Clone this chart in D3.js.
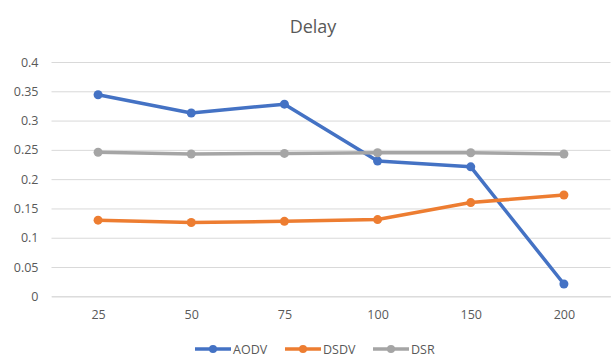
<!DOCTYPE html>
<html>
<head>
<meta charset="utf-8">
<script src="https://cdn.jsdelivr.net/npm/d3@7"></script>
<style>
  html, body { margin: 0; padding: 0; background: #fff; }
  svg { display: block; font-family: "Open Sans", "Noto Sans", sans-serif; }
</style>
</head>
<body>
<svg id="chart" width="612" height="357"></svg>
<script>
const categories = ["25", "50", "75", "100", "150", "200"];
const aodv = [0.344, 0.313, 0.328, 0.231, 0.221, 0.021];
const dsdv = [0.130, 0.126, 0.128, 0.131, 0.160, 0.173];
const dsr  = [0.246, 0.243, 0.244, 0.245, 0.245, 0.243];
const seriesNames = ["AODV", "DSDV", "DSR"];
const yTicks = [0, 0.05, 0.1, 0.15, 0.2, 0.25, 0.3, 0.35, 0.4];
const title = "Delay";

const series = [
  { name: seriesNames[0], values: aodv, color: "#4472C4" },
  { name: seriesNames[1], values: dsdv, color: "#ED7D31" },
  { name: seriesNames[2], values: dsr,  color: "#A5A5A5" }
];

const svg = d3.select("#chart");
const plotLeft = 51.5, plotRight = 610.5, plotTop = 62, plotBottom = 296.3;

const x = d3.scalePoint().domain(categories).range([plotLeft, plotRight]).padding(0.5);
const y = d3.scaleLinear().domain([0, 0.4]).range([plotBottom, plotTop]);

// title
svg.append("text")
  .attr("x", 313).attr("y", 33)
  .attr("text-anchor", "middle")
  .attr("fill", "#595959")
  .style("font-size", "18px")
  .text(title);

// gridlines + y labels
const yAxis = d3.axisLeft(y).tickValues(yTicks).tickSize(-(plotRight - plotLeft)).tickPadding(12)
  .tickFormat(d => String(+d.toFixed(2)));
const gy = svg.append("g").attr("transform", `translate(${plotLeft},0)`).call(yAxis);
gy.select(".domain").remove();
gy.selectAll(".tick line").attr("stroke", "#D9D9D9").attr("stroke-width", 1);
gy.selectAll(".tick text").attr("fill", "#595959").style("font-size", "12.5px")
  .style("font-family", "'Open Sans', 'Noto Sans', sans-serif")
  .attr("x", -13);

// x axis
const xAxis = d3.axisBottom(x).tickSize(0).tickPadding(14);
const gx = svg.append("g").attr("transform", `translate(0,${plotBottom})`).call(xAxis);
gx.select(".domain").attr("stroke", "#D9D9D9");
gx.selectAll(".tick text").attr("fill", "#595959").style("font-size", "12.5px")
  .style("font-family", "'Open Sans', 'Noto Sans', sans-serif");

// lines
const line = d3.line().x((d, i) => x(categories[i])).y(d => y(d));
series.forEach(s => {
  svg.append("path")
    .datum(s.values)
    .attr("fill", "none")
    .attr("stroke", s.color)
    .attr("stroke-width", 3.5)
    .attr("stroke-linejoin", "round")
    .attr("stroke-linecap", "round")
    .attr("d", line);
  svg.append("g").selectAll("circle")
    .data(s.values)
    .join("circle")
    .attr("cx", (d, i) => x(categories[i]))
    .attr("cy", d => y(d))
    .attr("r", 4.5)
    .attr("fill", s.color);
});

// legend
const legendX = [195, 285, 373];
const lg = svg.append("g");
series.forEach((s, i) => {
  const g = lg.append("g").attr("transform", `translate(${legendX[i]},349)`);
  g.append("line").attr("x1", 0).attr("x2", 36).attr("y1", 0).attr("y2", 0)
    .attr("stroke", s.color).attr("stroke-width", 3.5);
  g.append("circle").attr("cx", 18).attr("cy", 0).attr("r", 4).attr("fill", s.color);
  g.append("text").attr("x", 38).attr("y", 0).attr("dy", "0.36em")
    .attr("fill", "#595959").style("font-size", "12.5px").text(s.name);
});
</script>
</body>
</html>
